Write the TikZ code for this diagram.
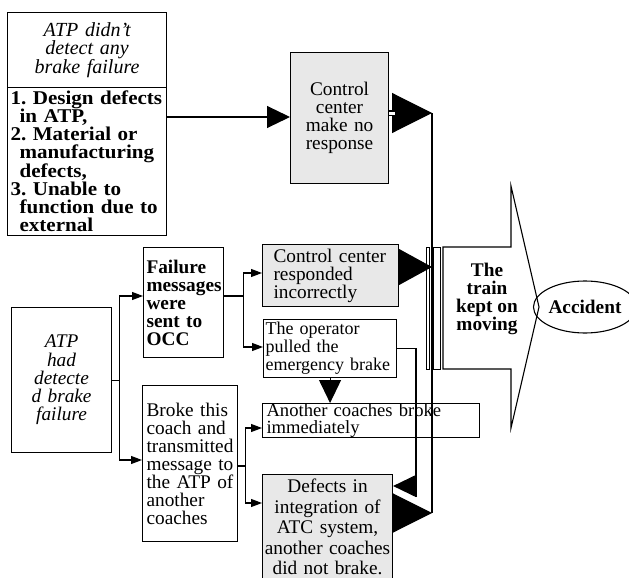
\documentclass[tikz,border=0pt]{standalone}
\usepackage{fontspec}
\setmainfont{Liberation Serif}
\newfontfamily\listfont[FakeStretch=1.08]{Liberation Serif}
\usetikzlibrary{arrows.meta,shapes.geometric}
\begin{document}
\begin{tikzpicture}[x=1pt,y=-1pt,
  line width=1.1pt,
  txt/.style={font=\fontsize{19.3}{18}\selectfont},
  box/.style={draw, rectangle, anchor=north west, inner ysep=0pt, txt},
  shaded/.style={fill=black!9},
  small/.style={-{Triangle[length=11pt,width=8pt]}},
  tri/.style={-{Triangle[length=#1pt,width=#1pt]}},
]
\useasboundingbox (0,0) rectangle (629,578);

% left column: causes of the missing detection
\node[box, inner xsep=3pt, text width=153pt, minimum height=75pt, align=center,
      font=\fontsize{20}{18.3}\selectfont\itshape] (atpno) at (7,12)
  {ATP didn’t\\detect any\\brake failure};
\node[box, inner xsep=3pt, text width=153pt, minimum height=148pt, align=left,
      font=\listfont\fontsize{19.5}{18}\selectfont\bfseries] (causes) at (7,87)
  {1.\ Design defects\\\hspace*{9pt}in ATP,\\2.\ Material or\\\hspace*{9pt}manufacturing\\\hspace*{9pt}defects,\\3.\ Unable to\\\hspace*{9pt}function due to\\\hspace*{9pt}external};

% control centre without response
\node[box, shaded, inner xsep=2pt, text width=94pt, minimum height=131pt, align=center] (ccno) at (290,52)
  {Control\\center\\make no\\response};

% detected branch
\node[box, inner xsep=3pt, text width=94pt, minimum height=145pt, align=center,
      font=\fontsize{19.3}{18.3}\selectfont\itshape] (atp) at (11,307)
  {ATP\\had\\detecte\\d brake\\failure};
\node[box, inner xsep=3pt, text width=74pt, minimum height=110pt, align=left,
      font=\fontsize{19.3}{18}\selectfont\bfseries] (fail) at (143,247)
  {Failure\\messages\\were\\sent to\\OCC};
\node[box, inner xsep=4pt, text width=87pt, minimum height=156pt, align=left] (broke) at (142,385)
  {Broke this\\coach and\\transmitted\\message to\\the ATP of\\another\\coaches};
\node[box, shaded, inner xsep=11pt, text width=114pt, minimum height=62pt, align=left] (ccw) at (262,244)
  {Control center\\responded\\incorrectly};
\node[box, inner xsep=2pt, text width=129pt, minimum height=58pt, align=left,
      font=\fontsize{18}{18}\selectfont] (op) at (263,319)
  {The operator\\pulled the\\emergency brake};
\node[box, inner xsep=4pt, text width=209pt, minimum height=34pt, align=left,
      font=\fontsize{18.6}{17.2}\selectfont] (ac) at (262,403)
  {Another coaches broke\\immediately};
\node[box, shaded, inner xsep=2pt, text width=126pt, minimum height=105pt, align=center,
      font=\fontsize{19.3}{20.5}\selectfont] (def) at (262,474)
  {Defects in\\integration of\\ATC system,\\another coaches\\did not brake.};

% outcome
\draw (443,247) -- (511,247) -- (511,186) -- (539,307) -- (511,428) -- (511,369) -- (443,369) -- cycle;
\node[txt, font=\fontsize{19.3}{18}\selectfont\bfseries, align=center] (train) at (487,299)
  {The\\train\\kept on\\moving};
\node[draw, ellipse, minimum width=86pt, minimum height=52pt, inner sep=0pt,
      font=\fontsize{19.3}{18}\selectfont\bfseries] (acc) at (585,307) {Accident};

% collecting line and its bars
\draw[line width=1pt] (426,247) rectangle (429,369);
\draw[line width=1pt] (433,247) rectangle (440,369);
\coordinate (tipA) at (432,113);
\coordinate (tipB) at (432,513);
\coordinate (tipC) at (432,267);
\coordinate (opT) at (416,486);
\coordinate (yL) at (0,117);
\coordinate (yF) at (0,296);
\coordinate (yC) at (0,273);
\coordinate (yO) at (0,347);
\coordinate (yB) at (0,460);
\coordinate (yBo) at (0,466);
\coordinate (yA) at (0,428);
\coordinate (yD) at (0,503);

\draw (tipA) -- (tipB);
\draw[-{Triangle[length=23pt,width=22pt]}] (causes.east |- yL) -- (ccno.west |- yL);
\draw[tri=40] (ccno.east |- tipA) -- (tipA);
\draw[double, double distance=3pt] (ccno.east |- tipA) -- ++(6,0);
\draw[-{Triangle[length=34pt,width=37pt]}] (ccw.east |- tipC) -- (tipC);
\draw[tri=40] (def.east |- tipB) -- (tipB);
\draw[-{Triangle[length=23pt,width=22pt]}] (op.east) -| (opT) -- (def.east |- opT);
\draw (opT) -- ++(0,11);
\draw[-{Triangle[length=23pt,width=22pt]}] (op.south) -- (op.south |- ac.north);

% branching connectors
\draw[small] (atp.east) -- ++(7,0) |- (fail.west |- yF);
\draw[small] (atp.east) -- ++(7,0) |- (broke.west |- yB);
\draw[small] (fail.east |- yF) -- ++(19,0) |- (ccw.west |- yC);
\draw[small] (fail.east |- yF) -- ++(19,0) |- (op.west |- yO);
\draw[small] (broke.east |- yBo) -- ++(7,0) |- (ac.west |- yA);
\draw[small] (broke.east |- yBo) -- ++(7,0) |- (def.west |- yD);
\end{tikzpicture}
\end{document}
